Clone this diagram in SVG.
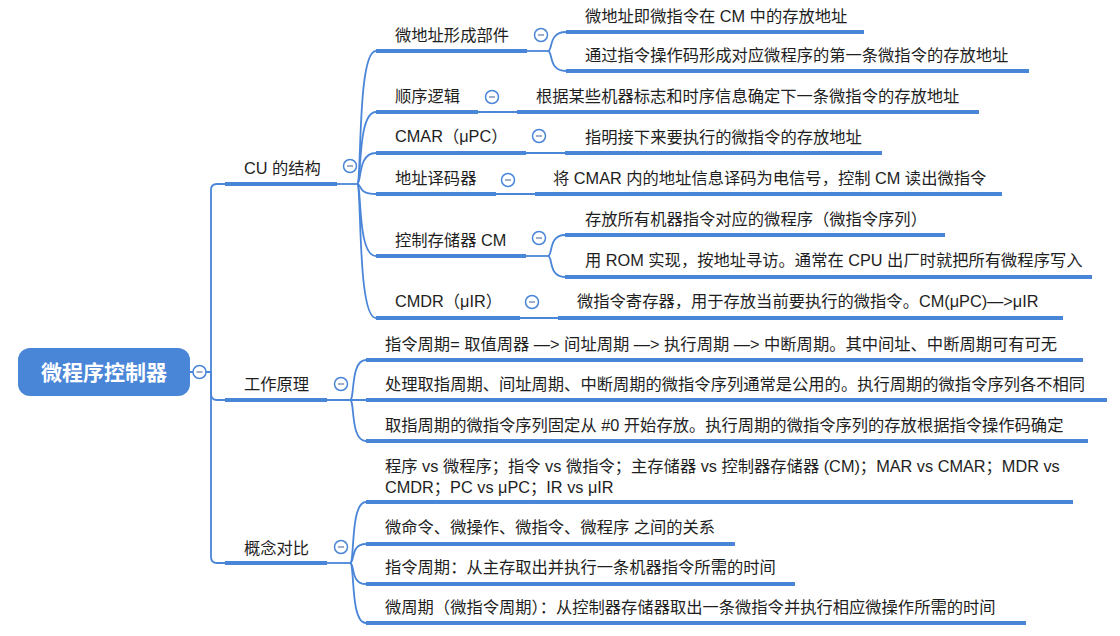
<svg xmlns="http://www.w3.org/2000/svg" width="1120" height="636" viewBox="0 0 1120 636">
<style>
.ln{fill:none;stroke:#4a86d8;stroke-width:1.8}
.ul{stroke:#4a86d8;stroke-width:4}
.t{font-family:"Liberation Sans","Noto Sans CJK SC",sans-serif;font-size:16.3px;fill:#1e1e1e;dominant-baseline:central}
.root{font-family:"Liberation Sans","Noto Sans CJK SC",sans-serif;font-size:21px;font-weight:bold;fill:#fff;dominant-baseline:central;text-anchor:middle}
</style>
<defs>
<g id="c"><circle r="6.5" fill="#fff" stroke="#4a86d8" stroke-width="1.5"/><line x1="-3" y1="0" x2="3" y2="0" stroke="#8194b4" stroke-width="1.5"/></g>
</defs>
<rect width="1120" height="636" fill="#fff"/>
<g id="connectors">
<path class="ln" d="M190 372H193M206 372H211"/>
<path class="ln" d="M211 372V190Q211 184 217 184H225"/>
<path class="ln" d="M211 372V394Q211 400 217 400H225"/>
<path class="ln" d="M211 372V557Q211 563 217 563H225"/>
<path class="ln" d="M337 184H357"/>
<path class="ln" d="M357 184C362 184 357 51 376 51"/>
<path class="ln" d="M357 184C362 184 357 112 376 112"/>
<path class="ln" d="M357 184C362 184 357 153 376 153"/>
<path class="ln" d="M357 184C362 184 357 194 376 194"/>
<path class="ln" d="M357 184C362 184 357 256 376 256"/>
<path class="ln" d="M357 184C362 184 357 318 376 318"/>
<path class="ln" d="M327 400H366"/>
<path class="ln" d="M350 400C355 400 350 360 366 360"/>
<path class="ln" d="M350 400C355 400 350 441 366 441"/>
<path class="ln" d="M327 563H350"/>
<path class="ln" d="M350 563C355 563 350 502 366 502"/>
<path class="ln" d="M350 563C355 563 350 544 366 544"/>
<path class="ln" d="M350 563C355 563 350 584 366 584"/>
<path class="ln" d="M350 563C355 563 350 623 366 623"/>
<path class="ln" d="M527 51H548"/>
<path class="ln" d="M548 51C553 51 548 32 566 32"/>
<path class="ln" d="M548 51C553 51 548 71 566 71"/>
<path class="ln" d="M478 112H517"/>
<path class="ln" d="M526 153H565"/>
<path class="ln" d="M496 194H535"/>
<path class="ln" d="M526 256H548"/>
<path class="ln" d="M548 256C553 256 548 235 565 235"/>
<path class="ln" d="M548 256C553 256 548 277 565 277"/>
<path class="ln" d="M520 318H558"/>
</g>
<g id="root">
<rect x="18" y="348" width="172" height="48" rx="12" fill="#4a86d8"/>
<text class="root" x="104" y="372">微程序控制器</text>
<use href="#c" x="199.5" y="372"/>
</g>
<g id="n-cu"><line class="ul" x1="225" y1="184" x2="337" y2="184"/><text class="t" x="244" y="168">CU 的结构</text><use href="#c" x="350" y="166"/></g>
<g id="n-gzyl"><line class="ul" x1="225" y1="400" x2="327" y2="400"/><text class="t" x="244" y="384">工作原理</text><use href="#c" x="341" y="384"/></g>
<g id="n-gndb"><line class="ul" x1="225" y1="563" x2="327" y2="563"/><text class="t" x="244" y="548">概念对比</text><use href="#c" x="341" y="547"/></g>
<g id="n-wdz"><line class="ul" x1="376" y1="51" x2="527" y2="51"/><text class="t" x="395" y="35">微地址形成部件</text><use href="#c" x="541" y="35"/></g>
<g id="n-sxlj"><line class="ul" x1="376" y1="112" x2="478" y2="112"/><text class="t" x="395" y="96">顺序逻辑</text><use href="#c" x="492" y="97"/></g>
<g id="n-cmar"><line class="ul" x1="376" y1="153" x2="526" y2="153"/><text class="t" x="395" y="136">CMAR（μPC）</text><use href="#c" x="539" y="136"/></g>
<g id="n-dzymq"><line class="ul" x1="376" y1="194" x2="496" y2="194"/><text class="t" x="395" y="178">地址译码器</text><use href="#c" x="508" y="180"/></g>
<g id="n-cm"><line class="ul" x1="376" y1="256" x2="526" y2="256"/><text class="t" x="395" y="240">控制存储器 CM</text><use href="#c" x="539" y="238"/></g>
<g id="n-cmdr"><line class="ul" x1="376" y1="318" x2="520" y2="318"/><text class="t" x="395" y="301">CMDR（μIR）</text><use href="#c" x="532" y="302"/></g>
<g id="n-wdz1"><line class="ul" x1="566" y1="32" x2="864" y2="32"/><text class="t" x="585" y="16">微地址即微指令在 CM 中的存放地址</text></g>
<g id="n-wdz2"><line class="ul" x1="566" y1="71" x2="1029" y2="71"/><text class="t" x="585" y="55">通过指令操作码形成对应微程序的第一条微指令的存放地址</text></g>
<g id="n-sxlj1"><line class="ul" x1="517" y1="112" x2="979" y2="112"/><text class="t" x="536" y="96">根据某些机器标志和时序信息确定下一条微指令的存放地址</text></g>
<g id="n-cmar1"><line class="ul" x1="565" y1="153" x2="882" y2="153"/><text class="t" x="585" y="137">指明接下来要执行的微指令的存放地址</text></g>
<g id="n-dzymq1"><line class="ul" x1="535" y1="194" x2="1002" y2="194"/><text class="t" x="553" y="178">将 CMAR 内的地址信息译码为电信号，控制 CM 读出微指令</text></g>
<g id="n-cm1"><line class="ul" x1="565" y1="235" x2="945" y2="235"/><text class="t" x="585" y="219">存放所有机器指令对应的微程序（微指令序列）</text></g>
<g id="n-cm2"><line class="ul" x1="565" y1="277" x2="1092" y2="277"/><text class="t" x="585" y="260">用 ROM 实现，按地址寻访。通常在 CPU 出厂时就把所有微程序写入</text></g>
<g id="n-cmdr1"><line class="ul" x1="558" y1="318" x2="1063" y2="318"/><text class="t" x="577" y="301">微指令寄存器，用于存放当前要执行的微指令。CM(μPC)—&gt;μIR</text></g>
<g id="n-gz1"><line class="ul" x1="366" y1="360" x2="1083" y2="360"/><text class="t" x="385" y="344">指令周期= 取值周器 —&gt; 间址周期 —&gt; 执行周期 —&gt; 中断周期。其中间址、中断周期可有可无</text></g>
<g id="n-gz2"><line class="ul" x1="366" y1="400" x2="1107" y2="400"/><text class="t" x="385" y="384">处理取指周期、间址周期、中断周期的微指令序列通常是公用的。执行周期的微指令序列各不相同</text></g>
<g id="n-gz3"><line class="ul" x1="366" y1="441" x2="1088" y2="441"/><text class="t" x="385" y="425">取指周期的微指令序列固定从 #0 开始存放。执行周期的微指令序列的存放根据指令操作码确定</text></g>
<g id="n-db1"><line class="ul" x1="366" y1="502" x2="1073" y2="502"/><text class="t" x="385" y="466">程序 vs 微程序；指令 vs 微指令；主存储器 vs 控制器存储器 (CM)；MAR vs CMAR；MDR vs</text><text class="t" x="385" y="487">CMDR；PC vs μPC；IR vs μIR</text></g>
<g id="n-db2"><line class="ul" x1="366" y1="544" x2="735" y2="544"/><text class="t" x="385" y="527">微命令、微操作、微指令、微程序 之间的关系</text></g>
<g id="n-db3"><line class="ul" x1="366" y1="584" x2="795" y2="584"/><text class="t" x="385" y="567">指令周期：从主存取出并执行一条机器指令所需的时间</text></g>
<g id="n-db4"><line class="ul" x1="366" y1="623" x2="1026" y2="623"/><text class="t" x="385" y="607">微周期（微指令周期）：从控制器存储器取出一条微指令并执行相应微操作所需的时间</text></g>
</svg>
